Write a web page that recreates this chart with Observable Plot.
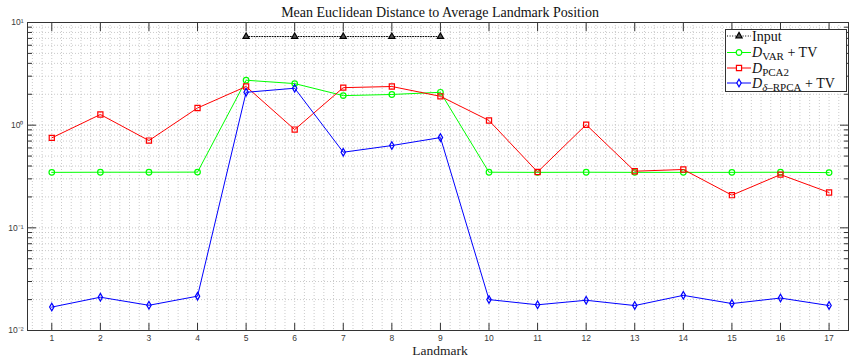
<!DOCTYPE html>
<html><head><meta charset="utf-8">
<script src="https://cdn.jsdelivr.net/npm/d3@7"></script>
<script src="https://cdn.jsdelivr.net/npm/@observablehq/plot@0.6"></script>
<style>
body{margin:0;background:#fff}
#chart{position:relative;width:849px;height:358px}
</style>
</head><body><div id="chart"></div>
<script>
// ---- data ----
const landmarks = [1,2,3,4,5,6,7,8,9,10,11,12,13,14,15,16,17];
const inputLandmarks = [5,6,7,8,9];
const inputValues = [7.3,7.3,7.3,7.3,7.3];
const varTV  = [0.347,0.348,0.348,0.349,2.74,2.54,1.94,1.99,2.09,0.348,0.347,0.348,0.347,0.347,0.347,0.348,0.345];
const pca2   = [0.752,1.27,0.708,1.47,2.38,0.906,2.32,2.38,1.91,1.11,0.35,1.01,0.356,0.37,0.208,0.33,0.221];
const rpcaTV = [0.0169,0.0211,0.0176,0.0216,2.09,2.29,0.545,0.633,0.757,0.0200,0.0178,0.0197,0.0175,0.0220,0.0183,0.0207,0.0175];
const seriesNames = ["Input","VAR","PCA2","RPCA"];
const seriesColors = ["#000000","#00ff00","#ff0000","#0000ff"];
const yDecades = [0.01,0.1,1,10];
const yTickLabels = ["10⁻²","10⁻¹","10⁰","10¹"];
const titleText = "Mean Euclidean Distance to Average Landmark Position";
const xLabel = "Landmark";

const rows = [
  ...inputLandmarks.map((x,i)=>({series:"Input",landmark:x,value:inputValues[i]})),
  ...landmarks.map((x,i)=>({series:"VAR",landmark:x,value:varTV[i]})),
  ...landmarks.map((x,i)=>({series:"PCA2",landmark:x,value:pca2[i]})),
  ...landmarks.map((x,i)=>({series:"RPCA",landmark:x,value:rpcaTV[i]}))
];
const bySeries = s => rows.filter(d=>d.series===s);

const yMinor = [];
for (const dec of [0.01,0.1,1]) for (let k=2;k<=9;k++) yMinor.push(+(dec*k).toPrecision(3));
const yGrid = yDecades.concat(yMinor);
const xGrid = d3.range(6, 175, 2).map(v=>v/10);

const serif = "'Liberation Serif', 'DejaVu Serif', serif";
const gridStyle = {stroke:"#b8b8b8", strokeDasharray:"1,2", strokeWidth:0.75};
const symbols = {Input:"triangle", VAR:"circle", PCA2:"square", RPCA:"diamond"};
const radii = {Input:2.3, VAR:2.8, PCA2:2.9, RPCA:2.3};
const fills = {Input:"#555", VAR:"none", PCA2:"none", RPCA:"none"};

const seriesMarks = seriesNames.flatMap((s,i)=>[
  Plot.line(bySeries(s), {x:"landmark", y:"value", stroke:seriesColors[i], strokeWidth:1,
    strokeDasharray: s==="Input" ? "1,1.6" : null}),
  Plot.dot(bySeries(s), {x:"landmark", y:"value", symbol:symbols[s], r:radii[s],
    stroke:seriesColors[i], fill:fills[s], strokeWidth:1.2})
]);

const axisCol = "#333";
const chart = Plot.plot({
  width:849, height:358,
  marginLeft:27, marginRight:1, marginTop:22, marginBottom:28,
  style:{fontFamily:"'Liberation Sans', Arial, sans-serif", fontSize:"8.5px", color:"#3a3a3a", background:"#fff"},
  x:{domain:[0.5,17.4], label:null},
  y:{type:"log", domain:[0.01,10], label:null},
  marks:[
    Plot.ruleX(xGrid, gridStyle),
    Plot.ruleY(yGrid, gridStyle),
    ...seriesMarks,
    Plot.frame({stroke:axisCol, strokeWidth:1}),
    Plot.axisX(landmarks, {anchor:"bottom", tickSize:-7, tickFormat:()=>"", stroke:axisCol, label:null}),
    Plot.axisX(landmarks, {anchor:"top", tickSize:-8, tickFormat:()=>"", stroke:axisCol, label:null}),
    Plot.axisX(landmarks, {anchor:"bottom", tickSize:0, tickPadding:4, tickFormat:d=>String(d), label:null}),
    Plot.axisY(yDecades, {anchor:"left", tickSize:-9, tickFormat:()=>"", stroke:axisCol, label:null}),
    Plot.axisY(yMinor, {anchor:"left", tickSize:-5, tickFormat:()=>"", stroke:axisCol, label:null}),
    Plot.axisY(yDecades, {anchor:"right", tickSize:-9, tickFormat:()=>"", stroke:axisCol, label:null}),
    Plot.axisY(yMinor, {anchor:"right", tickSize:-5, tickFormat:()=>"", stroke:axisCol, label:null}),
    Plot.axisY(yDecades, {anchor:"left", tickSize:0, tickPadding:4, label:null,
      tickFormat:d=>yTickLabels[yDecades.indexOf(d)]}),
    Plot.text([titleText], {text:d=>d, frameAnchor:"top", lineAnchor:"middle", dy:-10, dx:2, fontFamily:serif, fontSize:14, fill:"#111"}),
    Plot.text([xLabel], {text:d=>d, frameAnchor:"bottom", lineAnchor:"middle", dy:20, dx:2, fontFamily:serif, fontSize:13.5, fill:"#222"})
  ]
});
document.getElementById("chart").appendChild(chart);

const svg = d3.select(chart);
// legend
const lg = svg.append("g").attr("text-anchor","start");
lg.append("rect").attr("x",725.5).attr("y",29.5).attr("width",121).attr("height",62)
  .attr("fill","#fff").attr("stroke",axisCol).attr("stroke-width",1);
const rowsY = [36, 52.5, 68, 83];
const symMap = {triangle:d3.symbolTriangle, circle:d3.symbolCircle, square:d3.symbolSquare, diamond:d3.symbolDiamond};
seriesNames.forEach((s,i)=>{
  const y = rowsY[i];
  lg.append("line").attr("x1",727).attr("x2",751).attr("y1",y).attr("y2",y)
    .attr("stroke",seriesColors[i]).attr("stroke-width",1)
    .attr("stroke-dasharray", s==="Input" ? "1,1.6" : null);
  const r = radii[s];
  lg.append("path").attr("transform",`translate(739,${y})`)
    .attr("d", d3.symbol(symMap[symbols[s]], Math.PI*r*r)())
    .attr("fill", s==="Input" ? "#555" : "#fff").attr("stroke",seriesColors[i]).attr("stroke-width",1.2);
  const tx = lg.append("text").attr("x",752).attr("y",y+4.5).attr("text-anchor","start")
    .attr("font-family",serif).attr("font-size","14px").attr("fill","#111");
  if (s==="Input") { tx.text("Input"); return; }
  tx.append("tspan").attr("font-style","italic").text("D");
  const sub = tx.append("tspan").attr("dy","3").attr("font-size","11px");
  if (s==="VAR") sub.text("VAR");
  if (s==="PCA2") sub.text("PCA2");
  if (s==="RPCA") { sub.append("tspan").attr("font-style","italic").text("δ"); sub.append("tspan").text("–RPCA"); }
  if (s!=="PCA2") tx.append("tspan").attr("dy","-3").text(" + TV");
});
</script>
</body></html>
